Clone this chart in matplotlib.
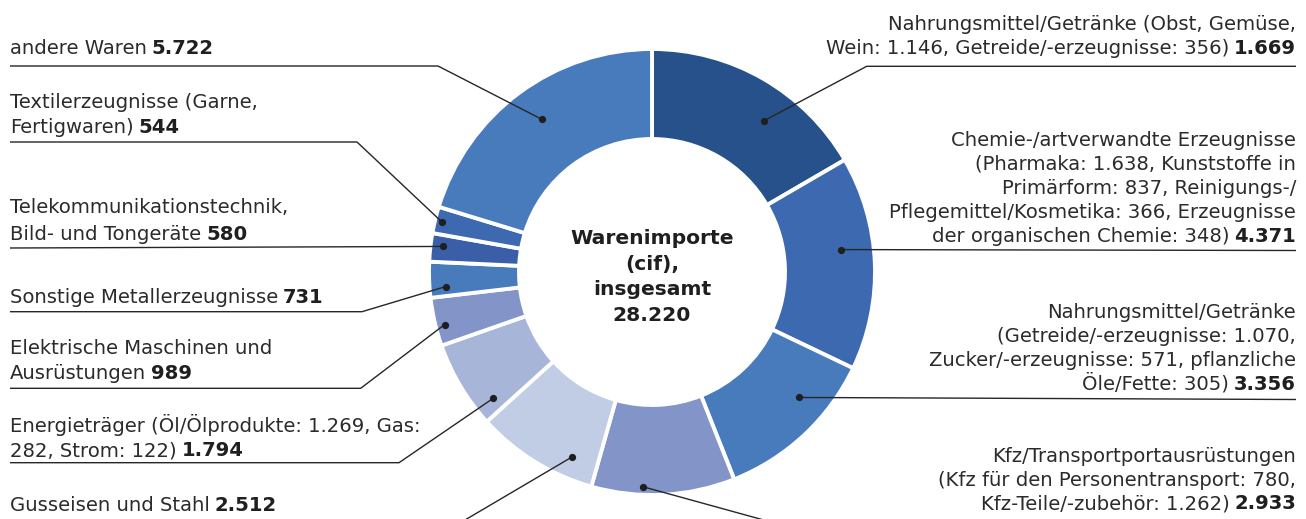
import numpy as np
import matplotlib
matplotlib.use("Agg")
import matplotlib.pyplot as plt

# Slice values (clockwise from 12 o'clock). The first slice is drawn with the
# remainder to the total 28.220, as in the reference picture.
values = [4688, 4371, 3356, 2933, 2512, 1794, 989, 731, 580, 544, 5722]
value_labels = ["1.669", "4.371", "3.356", "2.933", "2.512", "1.794",
                "989", "731", "580", "544", "5.722"]
label_lines = [
    ["Nahrungsmittel/Getränke (Obst, Gemüse,",
     "Wein: 1.146, Getreide/-erzeugnisse: 356)"],
    ["Chemie-/artverwandte Erzeugnisse",
     "(Pharmaka: 1.638, Kunststoffe in",
     "Primärform: 837, Reinigungs-/",
     "Pflegemittel/Kosmetika: 366, Erzeugnisse",
     "der organischen Chemie: 348)"],
    ["Nahrungsmittel/Getränke",
     "(Getreide/-erzeugnisse: 1.070,",
     "Zucker/-erzeugnisse: 571, pflanzliche",
     "Öle/Fette: 305)"],
    ["Kfz/Transportportausrüstungen",
     "(Kfz für den Personentransport: 780,",
     "Kfz-Teile/-zubehör: 1.262)"],
    ["Gusseisen und Stahl"],
    ["Energieträger (Öl/Ölprodukte: 1.269, Gas:",
     "282, Strom: 122)"],
    ["Elektrische Maschinen und",
     "Ausrüstungen"],
    ["Sonstige Metallerzeugnisse"],
    ["Telekommunikationstechnik,",
     "Bild- und Tongeräte"],
    ["Textilerzeugnisse (Garne,",
     "Fertigwaren)"],
    ["andere Waren"],
]
center_text = "Warenimporte\n(cif),\ninsgesamt\n28.220"

colors = ["#27518a", "#3d69b0", "#487bbc", "#8294c8", "#c1cde4", "#a7b5d8",
          "#8294c8", "#487bbc", "#3a5fa8", "#3d69b0", "#487bbc"]

# label layout: side, first baseline, line step, underline y, bend point
sides = ["R", "R", "R", "R", "L", "L", "L", "L", "L", "L", "L"]
first_base = [29.5, 145.7, 318.3, 461.7, 510.7, 431.7, 354.3, 302.7, 213.0, 108.0, 54.0]
line_step = [24.0, 24.2, 23.9, 23.8, 25.0, 24.5, 25.0, 25.0, 26.5, 25.3, 25.0]
underline_y = [66.3, 250.5, 399.5, 530.0, 530.0, 462.7, 388.3, 311.7, 248.0, 142.0, 66.0]
bend_x = [866.7, None, None, 800.0, 448.0, 399.0, 360.7, 362.0, None, 357.0, 438.0]
dot_frac = [0.61, 0.42, 0.35, 0.64, 0.24, 0.16, 0.40, 0.28, 0.58, 0.48, 0.51]
dot_r = [188, 190, 193, 215, 202, 203, 214, 207, 211, 216, 188]

W, H = 1306, 519
cx, cy = 652, 272
r_out, r_in = 223, 133
left_x, right_x = 10, 1296
txt_col = "#2b2b2b"
font = ["DejaVu Sans"]
fs = 14.1

fig = plt.figure(figsize=(W / 100, H / 100), dpi=100)
ax = fig.add_axes([0, 0, 1, 1])

wedges, _ = ax.pie(values, colors=colors, startangle=-90, counterclock=True,
                   center=(cx, cy), radius=r_out, frame=True,
                   wedgeprops=dict(width=r_out - r_in, edgecolor="white", linewidth=2.8))

ax.set_xlim(0, W)
ax.set_ylim(H, 0)
ax.set_aspect("auto")
ax.axis("off")

ax.text(cx, cy + 5, center_text, ha="center", va="center", fontsize=14.6,
        fontweight="bold", family=["DejaVu Sans"], color="#1f1f1f",
        linespacing=1.45)

for i, w in enumerate(wedges):
    th = np.deg2rad(w.theta1 + dot_frac[i] * (w.theta2 - w.theta1))
    dx, dy = cx + dot_r[i] * np.cos(th), cy + dot_r[i] * np.sin(th)
    ax.plot(dx, dy, "o", ms=4.2, color="#1f1f1f", zorder=5)

    lines = label_lines[i]
    ys = [first_base[i] + k * line_step[i] for k in range(len(lines))]
    uy = underline_y[i]
    if sides[i] == "L":
        for line, y in zip(lines[:-1], ys[:-1]):
            ax.text(left_x, y, line, ha="left", va="baseline", fontsize=fs,
                    family=font, color=txt_col)
        t = ax.text(left_x, ys[-1], lines[-1], ha="left", va="baseline",
                    fontsize=fs, family=font, color=txt_col)
        ax.annotate(value_labels[i], xy=(1, 0), xycoords=t, xytext=(3.5, 0),
                    textcoords="offset points", ha="left", va="bottom",
                    fontsize=fs, family=font, fontweight="bold", color="#1f1f1f")
        xs = [left_x]
    else:
        for line, y in zip(lines[:-1], ys[:-1]):
            ax.text(right_x, y, line, ha="right", va="baseline", fontsize=fs,
                    family=font, color=txt_col)
        b = ax.text(right_x, ys[-1], value_labels[i], ha="right", va="baseline",
                    fontsize=fs, family=font, fontweight="bold", color="#1f1f1f")
        ax.annotate(lines[-1], xy=(0, 0), xycoords=b, xytext=(-3.5, 0),
                    textcoords="offset points", ha="right", va="bottom",
                    fontsize=fs, family=font, color=txt_col)
        xs = [right_x]
    if bend_x[i] is None:
        px, py = xs + [dx], [uy, dy]
    else:
        px, py = xs + [bend_x[i], dx], [uy, uy, dy]
    ax.plot(px, py, color="#262626", lw=1.0, zorder=4, solid_capstyle="butt")

fig.savefig("out.png", dpi=100)
